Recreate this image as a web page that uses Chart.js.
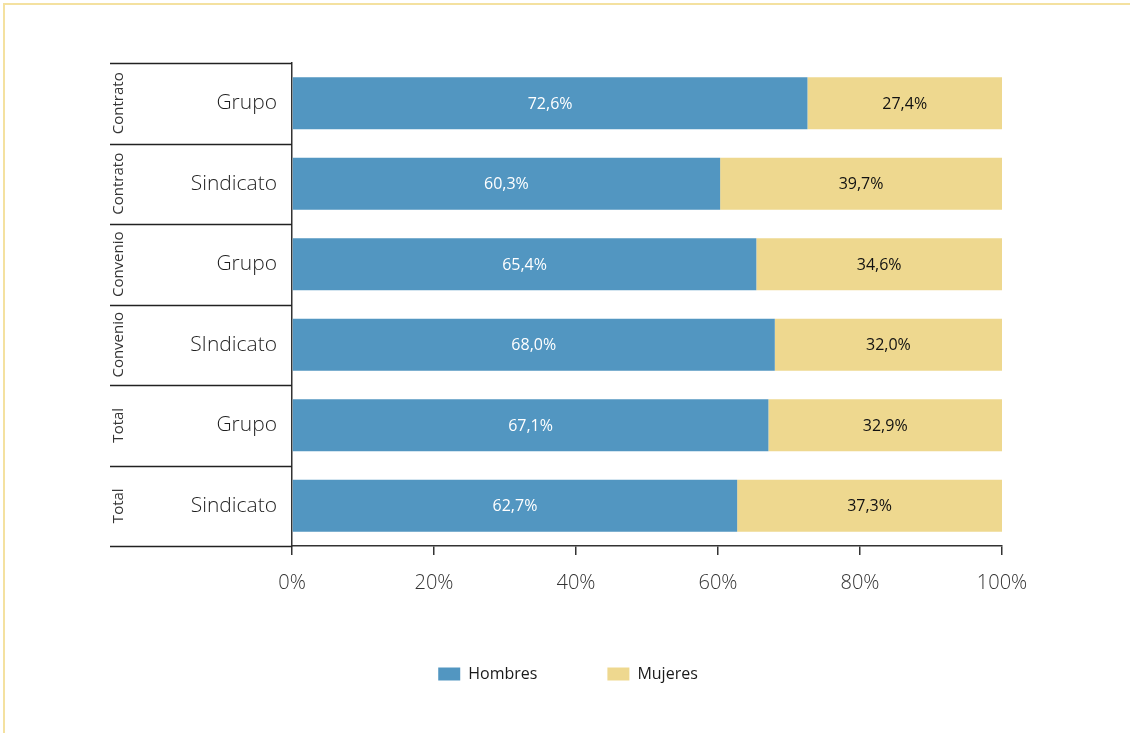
<!DOCTYPE html>
<html>
<head>
<meta charset="utf-8">
<script src="https://cdn.jsdelivr.net/npm/chart.js@4.4.1/dist/chart.umd.min.js"></script>
<style>
  html, body { margin: 0; padding: 0; background: #fff; }
  #wrap { position: relative; width: 1130px; height: 733px; }
</style>
</head>
<body>
<div id="wrap"><canvas id="c" width="1130" height="733"></canvas></div>
<script>
const categories = ["Grupo", "Sindicato", "Grupo", "SIndicato", "Grupo", "Sindicato"];
const groups = ["Contrato", "Contrato", "Convenio", "Convenio", "Total", "Total"];
const hombres = [72.6, 60.3, 65.4, 68.0, 67.1, 62.7];
const mujeres = [27.4, 39.7, 34.6, 32.0, 32.9, 37.3];
const xTicks = [0, 20, 40, 60, 80, 100];

const FONT = "'Open Sans', 'Noto Sans', sans-serif";

const framePlugin = {
  id: 'frame',
  beforeDraw(chart) {
    const ctx = chart.ctx;
    ctx.save();
    ctx.strokeStyle = '#f4e1a0';
    ctx.lineWidth = 2;
    ctx.beginPath();
    ctx.moveTo(4, 733);
    ctx.lineTo(4, 4);
    ctx.lineTo(1130, 4);
    ctx.stroke();
    ctx.restore();
  },
  afterLayout(chart) {
    if (chart.legend) {
      chart.legend.left += 12;
      chart.legend.right += 12;
    }
  }
};

const groupPlugin = {
  id: 'groups',
  afterDraw(chart) {
    const ctx = chart.ctx;
    const ca = chart.chartArea;
    const y = chart.scales.y;
    const n = categories.length;
    const band = (ca.bottom - ca.top) / n;
    ctx.save();
    ctx.strokeStyle = '#222';
    ctx.lineWidth = 1.5;
    for (let i = 0; i <= n; i++) {
      const yy = Math.round(ca.top + i * band) + 0.5;
      ctx.beginPath();
      ctx.moveTo(110, yy);
      ctx.lineTo(ca.left, yy);
      ctx.stroke();
    }
    ctx.fillStyle = '#333';
    ctx.font = "15px " + FONT;
    ctx.textAlign = 'center';
    ctx.textBaseline = 'middle';
    groups.forEach((g, i) => {
      const cy = y.getPixelForValue(i);
      ctx.save();
      ctx.translate(119, cy);
      ctx.rotate(-Math.PI / 2);
      ctx.fillText(g, 0, 0);
      ctx.restore();
    });
    // data labels
    chart.data.datasets.forEach((ds, di) => {
      const meta = chart.getDatasetMeta(di);
      meta.data.forEach((bar, i) => {
        const v = ds.data[i];
        const cx = (bar.x + bar.base) / 2;
        ctx.font = (di === 0 ? "" : "500 ") + "16px " + FONT;
        ctx.fillStyle = di === 0 ? '#ffffff' : '#111111';
        ctx.fillText(v.toFixed(1).replace('.', ',') + '%', cx, bar.y + 1);
      });
    });
    ctx.restore();
  }
};

new Chart(document.getElementById('c'), {
  type: 'bar',
  data: {
    labels: categories,
    datasets: [
      { label: 'Hombres', data: hombres, backgroundColor: '#5296c1', borderWidth: 0 },
      { label: 'Mujeres', data: mujeres, backgroundColor: '#eed88f', borderWidth: 0 }
    ]
  },
  options: {
    indexAxis: 'y',
    responsive: false,
    animation: false,
    devicePixelRatio: 1,
    barPercentage: 0.8,
    categoryPercentage: 0.81,
    layout: { padding: { left: 110, right: 128, top: 63, bottom: 41 } },
    plugins: {
      legend: {
        position: 'bottom',
        labels: {
          boxWidth: 22, boxHeight: 13, padding: 70,
          color: '#1a1a1a',
          font: { family: FONT, size: 16 }
        }
      },
      tooltip: { enabled: false }
    },
    scales: {
      x: {
        stacked: true,
        min: 0, max: 100,
        afterBuildTicks(scale) { scale.ticks = xTicks.map(v => ({ value: v })); },
        afterFit(scale) { scale.height = 50; },
        grid: { drawOnChartArea: false, drawTicks: true, tickLength: 9, color: '#333', lineWidth: 1.5 },
        border: { display: true, color: '#333', width: 1.5 },
        ticks: {
          padding: 16,
          color: '#333',
          font: { family: FONT, size: 20, weight: '300' },
          callback: v => v + '%'
        }
      },
      y: {
        stacked: true,
        afterFit(scale) { scale.width = 182; },
        grid: { display: false, drawOnChartArea: false },
        border: { display: true, color: '#333', width: 1.5 },
        ticks: {
          padding: 7,
          color: '#1e1e1e',
          font: { family: FONT, size: 21, weight: '300' }
        }
      }
    }
  },
  plugins: [framePlugin, groupPlugin]
});
</script>
</body>
</html>
